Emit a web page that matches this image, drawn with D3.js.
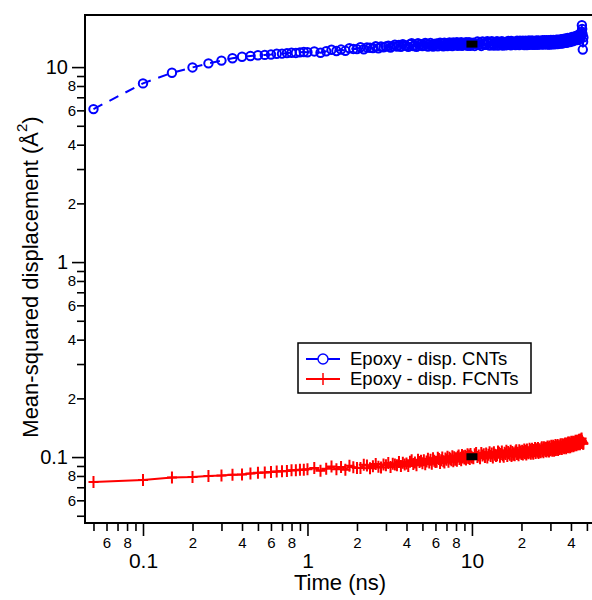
<!DOCTYPE html>
<html>
<head>
<meta charset="utf-8">
<script src="https://cdn.jsdelivr.net/npm/d3@7"></script>
<style>
    body { margin: 0; background: #fff; }
    text { font-family: "Liberation Sans", Arial, sans-serif; fill: #000; }
</style>
</head>
<body>
<div id="chart"></div>
<script>
// time (ns)
var times = [
    0.05,0.1,0.15,0.2,0.25,0.3,0.35,0.4,0.45,0.5,0.55,0.6,0.65,0.7,0.75,0.8,0.85,0.9,0.95,1,
    1.1,1.2,1.3,1.4,1.5,1.6,1.7,1.8,1.9,2,
    2.1,2.2,2.3,2.4,2.5,2.6,2.7,2.8,2.9,3,
    3.1,3.2,3.3,3.4,3.5,3.6,3.7,3.8,3.9,4,
    4.1,4.2,4.3,4.4,4.5,4.6,4.7,4.8,4.9,5,
    5.1,5.2,5.3,5.4,5.5,5.6,5.7,5.8,5.9,6,
    6.1,6.2,6.3,6.4,6.5,6.6,6.7,6.8,6.9,7,
    7.1,7.2,7.3,7.4,7.5,7.6,7.7,7.8,7.9,8,
    8.1,8.2,8.3,8.4,8.5,8.6,8.7,8.8,8.9,9,
    9.1,9.2,9.3,9.4,9.5,9.6,9.7,9.8,9.9,10,
    10.2,10.4,10.6,10.8,11,11.2,11.4,11.6,11.8,12,
    12.2,12.4,12.6,12.8,13,13.2,13.4,13.6,13.8,14,
    14.2,14.4,14.6,14.8,15,15.2,15.4,15.6,15.8,16,
    16.2,16.4,16.6,16.8,17,17.2,17.4,17.6,17.8,18,
    18.2,18.4,18.6,18.8,19,19.2,19.4,19.6,19.8,20,
    20.2,20.4,20.6,20.8,21,21.2,21.4,21.6,21.8,22,
    22.2,22.4,22.6,22.8,23,23.2,23.4,23.6,23.8,24,
    24.2,24.4,24.6,24.8,25,25.2,25.4,25.6,25.8,26,
    26.2,26.4,26.6,26.8,27,27.2,27.4,27.6,27.8,28,
    28.2,28.4,28.6,28.8,29,29.2,29.4,29.6,29.8,30,
    30.2,30.4,30.6,30.8,31,31.2,31.4,31.6,31.8,32,
    32.2,32.4,32.6,32.8,33,33.2,33.4,33.6,33.8,34,
    34.2,34.4,34.6,34.8,35,35.2,35.4,35.6,35.8,36,
    36.2,36.4,36.6,36.8,37,37.2,37.4,37.6,37.8,38,
    38.2,38.4,38.6,38.8,39,39.2,39.4,39.6,39.8,40,
    40.2,40.4,40.6,40.8,41,41.2,41.4,41.6,41.8,42,
    42.2,42.4,42.6,42.8,43,43.2,43.4,43.6,43.8,44,
    44.2,44.4,44.6,44.8,45,45.2,45.4,45.6,45.8,46,
    46.2,46.4,46.6,46.8,47,47.2,47.4,47.6
];

// MSD (Å^2), epoxy with dispersed CNTs
var cntMsd = [
    6.09,8.25,9.35,9.96,10.45,10.8,11.1,11.3,11.4,11.5,11.55,11.6,11.7,11.72,11.8,11.85,11.82,11.9,11.95,11.92,
    12.03,11.84,12.06,12.27,12.09,12.30,12.12,12.49,12.39,12.37,
    12.64,12.35,12.62,12.57,12.52,12.78,12.49,12.76,12.63,12.75,
    12.87,12.59,12.81,13.03,12.75,12.97,12.69,13.11,12.93,12.85,
    12.69,13.11,13.25,12.83,12.97,12.69,13.25,12.97,13.11,12.83,
    12.88,13.30,13.16,12.74,13.02,13.30,12.88,12.74,13.16,13.02,
    13.21,12.79,13.07,13.35,12.93,13.21,12.79,13.35,13.07,12.93,
    12.83,13.25,13.39,12.97,13.11,12.83,13.39,13.11,13.25,12.97,
    13.41,12.85,13.27,13.13,12.99,13.41,12.85,13.27,12.99,13.13,
    13.01,13.43,13.29,12.87,13.15,13.43,13.01,12.87,13.29,13.15,
    13.35,12.84,13.18,13.52,13.01,13.35,12.84,13.52,13.18,13.01,
    13.05,13.56,13.39,12.88,13.22,13.56,13.05,12.88,13.39,13.22,
    13.59,12.91,13.42,13.25,13.08,13.59,12.91,13.42,13.08,13.25,
    12.93,13.44,13.61,13.10,13.27,12.93,13.61,13.27,13.44,13.10,
    13.47,12.96,13.30,13.64,13.13,13.47,12.96,13.64,13.30,13.13,
    13.15,13.66,13.49,12.98,13.32,13.66,13.15,12.98,13.49,13.32,
    13.68,13.00,13.51,13.34,13.17,13.68,13.00,13.51,13.17,13.34,
    13.02,13.53,13.70,13.19,13.36,13.02,13.70,13.36,13.53,13.19,
    13.55,13.04,13.38,13.72,13.21,13.55,13.04,13.72,13.38,13.21,
    13.23,13.74,13.57,13.06,13.40,13.74,13.23,13.06,13.57,13.40,
    13.77,13.09,13.60,13.43,13.26,13.77,13.09,13.60,13.26,13.43,
    13.14,13.65,13.82,13.31,13.48,13.14,13.82,13.48,13.65,13.31,
    13.72,13.21,13.55,13.89,13.38,13.72,13.21,13.89,13.55,13.38,
    13.48,13.99,13.82,13.31,13.65,13.99,13.48,13.31,13.82,13.65,
    14.12,13.44,13.95,13.78,13.61,14.12,13.44,13.95,13.61,13.78,
    13.58,14.09,14.26,13.75,13.92,13.58,14.26,13.92,14.09,13.75,
    14.27,13.76,14.10,14.44,13.93,14.27,13.76,14.44,14.10,13.93,
    14.13,14.64,14.47,13.96,14.30,14.64,14.13,13.96,14.47,14.30,
    14.6,15.2,16.4,15.7,14.8,12.3,13.5,14.2
];

// MSD (Å^2), epoxy with dispersed FCNTs
var fcntMsd = [
    0.0744,0.0762,0.0785,0.0790,0.0800,0.0804,0.0811,0.0814,0.0824,0.0830,0.0833,0.0838,0.0842,0.0846,0.0849,0.0855,0.0857,0.0860,0.0862,0.0866,
    0.0878,0.0850,0.0872,0.0894,0.0866,0.0889,0.0861,0.0903,0.0886,0.0878,
    0.0880,0.0912,0.0905,0.0876,0.0898,0.0920,0.0892,0.0884,0.0916,0.0908,
    0.0932,0.0890,0.0925,0.0916,0.0907,0.0942,0.0900,0.0935,0.0915,0.0928,
    0.0900,0.0947,0.0963,0.0920,0.0937,0.0908,0.0970,0.0942,0.0958,0.0930,
    0.0962,0.0918,0.0950,0.0981,0.0937,0.0968,0.0924,0.0985,0.0957,0.0943,
    0.0945,0.0991,0.0977,0.0933,0.0964,0.0995,0.0951,0.0937,0.0983,0.0970,
    0.1005,0.0946,0.0992,0.0978,0.0964,0.1010,0.0951,0.0997,0.0969,0.0985,
    0.0958,0.1004,0.1020,0.0976,0.0992,0.0963,0.1024,0.0995,0.1011,0.0983,
    0.1015,0.0971,0.1002,0.1033,0.0989,0.1020,0.0976,0.1037,0.1008,0.0995,
    0.0986,0.1034,0.1050,0.1002,0.1018,0.0986,0.1050,0.1018,0.1034,0.1002,
    0.1044,0.0996,0.1028,0.1060,0.1012,0.1044,0.0996,0.1060,0.1028,0.1012,
    0.1021,0.1069,0.1053,0.1005,0.1037,0.1069,0.1021,0.1005,0.1053,0.1037,
    0.1077,0.1013,0.1061,0.1045,0.1029,0.1077,0.1013,0.1061,0.1029,0.1045,
    0.1021,0.1069,0.1085,0.1037,0.1053,0.1021,0.1085,0.1053,0.1069,0.1037,
    0.1078,0.1030,0.1062,0.1094,0.1046,0.1078,0.1030,0.1094,0.1062,0.1046,
    0.1055,0.1103,0.1087,0.1039,0.1071,0.1103,0.1055,0.1039,0.1087,0.1071,
    0.1112,0.1048,0.1096,0.1080,0.1064,0.1112,0.1048,0.1096,0.1064,0.1080,
    0.1058,0.1106,0.1122,0.1074,0.1090,0.1058,0.1122,0.1090,0.1106,0.1074,
    0.1116,0.1068,0.1100,0.1132,0.1084,0.1116,0.1068,0.1132,0.1100,0.1084,
    0.1094,0.1142,0.1126,0.1078,0.1110,0.1142,0.1094,0.1078,0.1126,0.1110,
    0.1152,0.1088,0.1136,0.1120,0.1104,0.1152,0.1088,0.1136,0.1104,0.1120,
    0.1099,0.1147,0.1163,0.1115,0.1131,0.1099,0.1163,0.1131,0.1147,0.1115,
    0.1159,0.1111,0.1143,0.1175,0.1127,0.1159,0.1111,0.1175,0.1143,0.1127,
    0.1139,0.1187,0.1171,0.1123,0.1155,0.1187,0.1139,0.1123,0.1171,0.1155,
    0.1199,0.1135,0.1183,0.1167,0.1151,0.1199,0.1135,0.1183,0.1151,0.1167,
    0.1148,0.1196,0.1212,0.1164,0.1180,0.1148,0.1212,0.1180,0.1196,0.1164,
    0.1211,0.1163,0.1195,0.1227,0.1179,0.1211,0.1163,0.1227,0.1195,0.1179,
    0.1230,0.1245,0.1210,0.1195,0.1180,0.1185,0.1170,0.1175
];

var seriesNames = ["Epoxy - disp. CNTs", "Epoxy - disp. FCNTs"];

// black marks at 10 ns
var markTime = 10;
var markValues = [13.12, 0.1004];

var xMajorTicks = [0.1, 1, 10];
var xMinorTicks = [0.05,0.06,0.07,0.08,0.09, 0.2,0.3,0.4,0.5,0.6,0.7,0.8,0.9, 2,3,4,5,6,7,8,9, 20,30,40,50];
var xMinorLabels = ["","6","","8","", "2","","4","","6","","8","", "2","","4","","6","","8","", "2","","4",""];
var yMajorTicks = [0.1, 1, 10];
var yMinorTicks = [0.05,0.06,0.07,0.08,0.09, 0.2,0.3,0.4,0.5,0.6,0.7,0.8,0.9, 2,3,4,5,6,7,8,9];
var yMinorLabels = ["","6","","8","", "2","","4","","6","","8","", "2","","4","","6","","8",""];

function init(){
    var w = 592;
    var h = 600;
    var left = 85, right = 595, top = 15, bottom = 523;

    var xScale = d3.scaleLog().domain([0.0444, 56]).range([left, right]);
    var yScale = d3.scaleLog().domain([0.0459, 18.5]).range([bottom, top]);

    var svg = d3.select("#chart")
                .append("svg")
                .attr("width", w)
                .attr("height", h);

    svg.append("rect").attr("width", w).attr("height", h).attr("fill", "#fff");

    svg.append("defs").append("clipPath")
        .attr("id", "plotclip")
        .append("rect")
        .attr("x", left).attr("y", top - 10)
        .attr("width", right - left).attr("height", bottom - top + 10);

    // axes
    var xMajor = d3.axisBottom(xScale).tickValues(xMajorTicks).tickSize(13).tickPadding(17)
                    .tickFormat(d3.format("~g"));
    var xMinor = d3.axisBottom(xScale).tickValues(xMinorTicks).tickSize(8).tickPadding(6)
                    .tickFormat(function(d, i){ return xMinorLabels[i]; });
    var yMajor = d3.axisLeft(yScale).tickValues(yMajorTicks).tickSize(13).tickPadding(4)
                    .tickFormat(d3.format("~g"));
    var yMinor = d3.axisLeft(yScale).tickValues(yMinorTicks).tickSize(8).tickPadding(1)
                    .tickFormat(function(d, i){ return yMinorLabels[i]; });

    function styleAxis(g, size){
        g.select(".domain").remove();
        g.selectAll("line").attr("stroke", "#000").attr("stroke-width", 1.6);
        g.selectAll("text").attr("font-size", size).attr("font-family", "'Liberation Sans', Arial, sans-serif");
    }

    svg.append("g").attr("transform", `translate(0,${bottom})`).call(xMajor).call(styleAxis, 21);
    svg.append("g").attr("transform", `translate(0,${bottom})`).call(xMinor).call(styleAxis, 15);
    svg.append("g").attr("transform", `translate(${left},0)`).call(yMajor).call(styleAxis, 20);
    svg.append("g").attr("transform", `translate(${left},0)`).call(yMinor).call(styleAxis, 15);

    // frame
    svg.append("path")
        .attr("d", `M${right},${top}H${left}V${bottom}H${right}`)
        .attr("fill", "none")
        .attr("stroke", "#000")
        .attr("stroke-width", 2);

    // axis titles
    svg.append("text")
        .attr("x", 340)
        .attr("y", 590)
        .attr("text-anchor", "middle")
        .attr("font-size", 22)
        .text("Time (ns)");

    var yTitle = svg.append("text")
        .attr("transform", "translate(38,277) rotate(-90)")
        .attr("text-anchor", "middle")
        .attr("font-size", 22);
    yTitle.append("tspan").text("Mean-squared displacement (Å");
    yTitle.append("tspan").attr("font-size", 15).attr("dy", -11).text("2");
    yTitle.append("tspan").attr("dy", 11).text(")");

    // data
    var cntData = times.map(function(t, i){ return {t: t, v: cntMsd[i]}; });
    var fcntData = times.map(function(t, i){ return {t: t, v: fcntMsd[i]}; });

    var line = d3.line()
                .x(function(d){ return xScale(d.t); })
                .y(function(d){ return yScale(d.v); });

    var plot = svg.append("g").attr("clip-path", "url(#plotclip)");

    plot.append("path")
        .datum(cntData)
        .attr("d", line)
        .attr("fill", "none")
        .attr("stroke", "#0000ff")
        .attr("stroke-width", 2)
        .attr("stroke-dasharray", "10,8");

    plot.selectAll(".cnt")
        .data(cntData)
        .enter()
        .append("circle")
        .attr("class", "cnt")
        .attr("cx", function(d){ return xScale(d.t); })
        .attr("cy", function(d){ return yScale(d.v); })
        .attr("r", 4.2)
        .attr("fill", "none")
        .attr("stroke", "#0000ff")
        .attr("stroke-width", 2);

    plot.append("path")
        .datum(fcntData)
        .attr("d", line)
        .attr("fill", "none")
        .attr("stroke", "#ff0000")
        .attr("stroke-width", 2);

    plot.selectAll(".fcnt")
        .data(fcntData)
        .enter()
        .append("path")
        .attr("class", "fcnt")
        .attr("d", function(d){
            var x = xScale(d.t), y = yScale(d.v);
            return `M${x-5},${y}H${x+5}M${x},${y-6}V${y+6}`;
        })
        .attr("stroke", "#ff0000")
        .attr("stroke-width", 2);

    // black marks at 10 ns
    plot.selectAll(".mark")
        .data(markValues)
        .enter()
        .append("rect")
        .attr("class", "mark")
        .attr("x", xScale(markTime) - 5.5)
        .attr("y", function(d){ return yScale(d) - 3.5; })
        .attr("width", 11)
        .attr("height", 7)
        .attr("fill", "#000");

    // legend
    var legend = svg.append("g");
    legend.append("rect")
        .attr("x", 298).attr("y", 343)
        .attr("width", 233).attr("height", 50)
        .attr("fill", "#fff")
        .attr("stroke", "#000")
        .attr("stroke-width", 1.5);

    var colors = ["#0000ff", "#ff0000"];
    seriesNames.forEach(function(name, i){
        var y = 359 + i * 20;
        legend.append("line")
            .attr("x1", 306).attr("x2", 340)
            .attr("y1", y).attr("y2", y)
            .attr("stroke", colors[i])
            .attr("stroke-width", 2);
        if (i === 0) {
            legend.append("circle")
                .attr("cx", 323).attr("cy", y).attr("r", 5)
                .attr("fill", "#fff")
                .attr("stroke", colors[i])
                .attr("stroke-width", 1.4);
        } else {
            legend.append("path")
                .attr("d", `M318,${y}H328M323,${y-6}V${y+6}`)
                .attr("stroke", colors[i])
                .attr("stroke-width", 1.5);
        }
        legend.append("text")
            .attr("x", 350)
            .attr("y", y + 6)
            .attr("font-size", 18.5)
            .text(name);
    });
}
window.onload = init;
</script>
</body>
</html>
